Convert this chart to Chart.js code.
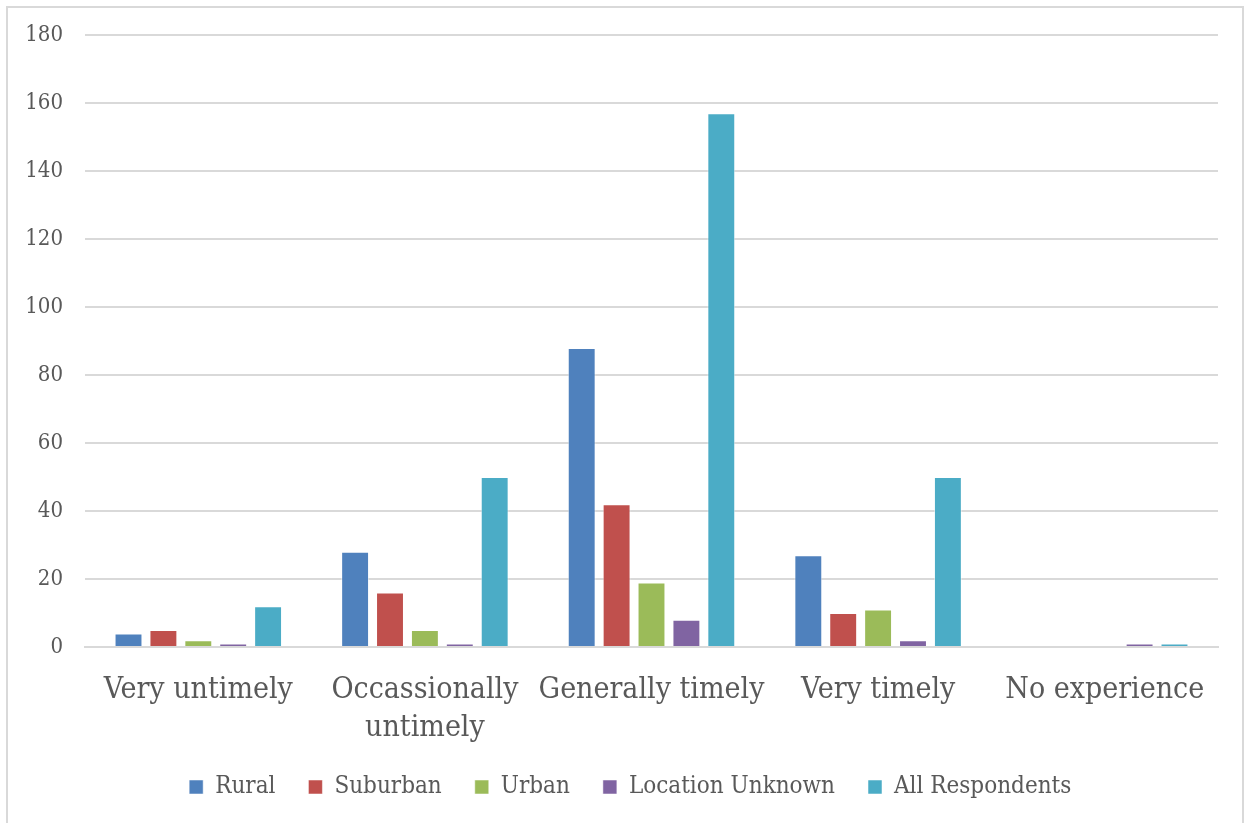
<!DOCTYPE html>
<html>
<head>
<meta charset="utf-8">
<script src="https://cdn.jsdelivr.net/npm/chart.js@4"></script>
<style>
  html, body { margin: 0; padding: 0; background: #fff; }
  #frame {
    position: absolute; left: 6px; top: 6px; width: 1238px; height: 830px;
    border: 2px solid #d9d9d9; box-sizing: border-box;
  }
  #wrap { position: absolute; left: 0; top: 0; width: 1248px; height: 823px; }
</style>
</head>
<body>
<div id="frame"></div>
<div id="wrap"><canvas id="c" width="1248" height="823"></canvas></div>
<script>
// Survey responses on timeliness, by respondent location
const categories = ['Very untimely', ['Occassionally', 'untimely'], 'Generally timely', 'Very timely', 'No experience'];
const rural = [4, 28, 88, 27, 0];
const suburban = [5, 16, 42, 10, 0];
const urban = [2, 5, 19, 11, 0];
const locationUnknown = [1, 1, 8, 2, 1];
const allRespondents = [12, 50, 157, 50, 1];
const yTicks = [0, 20, 40, 60, 80, 100, 120, 140, 160, 180];

const seriesNames = ['Rural', 'Suburban', 'Urban', 'Location Unknown', 'All Respondents'];
const seriesValues = [rural, suburban, urban, locationUnknown, allRespondents];
const seriesColors = ['#4f81bd', '#c0504d', '#9bbb59', '#8064a2', '#4bacc6'];

const FONT = "'DejaVu Serif Condensed', 'DejaVu Serif', serif";
const TEXT = '#595959';

// Centre the legend under the plot area rather than the whole canvas
const legendUnderPlot = {
  id: 'legendUnderPlot',
  afterLayout(chart) {
    const lg = chart.legend;
    if (!lg) return;
    const shift = (chart.chartArea.left + chart.chartArea.right) / 2 - (lg.left + lg.right) / 2;
    lg.left += shift * 0.5;
    lg.right += shift * 0.5;
  }
};

new Chart(document.getElementById('c'), {
  type: 'bar',
  data: {
    labels: categories,
    datasets: seriesNames.map((name, i) => ({
      label: name,
      data: seriesValues[i],
      backgroundColor: seriesColors[i],
      borderColor: 'rgba(255,255,255,0.5)',
      borderWidth: 1,
      barPercentage: 0.8,
      categoryPercentage: 0.77
    }))
  },
  plugins: [legendUnderPlot],
  options: {
    responsive: false,
    animation: false,
    layout: { padding: { top: 25, right: 30, left: 0, bottom: 14 } },
    plugins: {
      tooltip: { enabled: false },
      legend: {
        position: 'bottom',
        labels: {
          color: TEXT,
          font: { family: FONT, size: 24 },
          boxWidth: 14,
          boxHeight: 14,
          padding: 33
        }
      }
    },
    scales: {
      x: {
        grid: { display: false },
        border: { color: '#d9d9d9', width: 2 },
        ticks: {
          color: TEXT,
          font: { family: FONT, size: 30, lineHeight: 1.27 },
          maxRotation: 0,
          autoSkip: false,
          padding: 16
        },
        afterFit: (s) => { s.height = 95; }
      },
      y: {
        min: 0,
        max: 180,
        afterBuildTicks: (s) => { s.ticks = yTicks.map(v => ({ value: v })); },
        grid: { color: '#d9d9d9', lineWidth: 2, drawTicks: false },
        border: { display: false },
        ticks: {
          color: TEXT,
          font: { family: FONT, size: 22 },
          padding: 22
        },
        afterFit: (s) => { s.width = 85; }
      }
    }
  }
});
</script>
</body>
</html>
